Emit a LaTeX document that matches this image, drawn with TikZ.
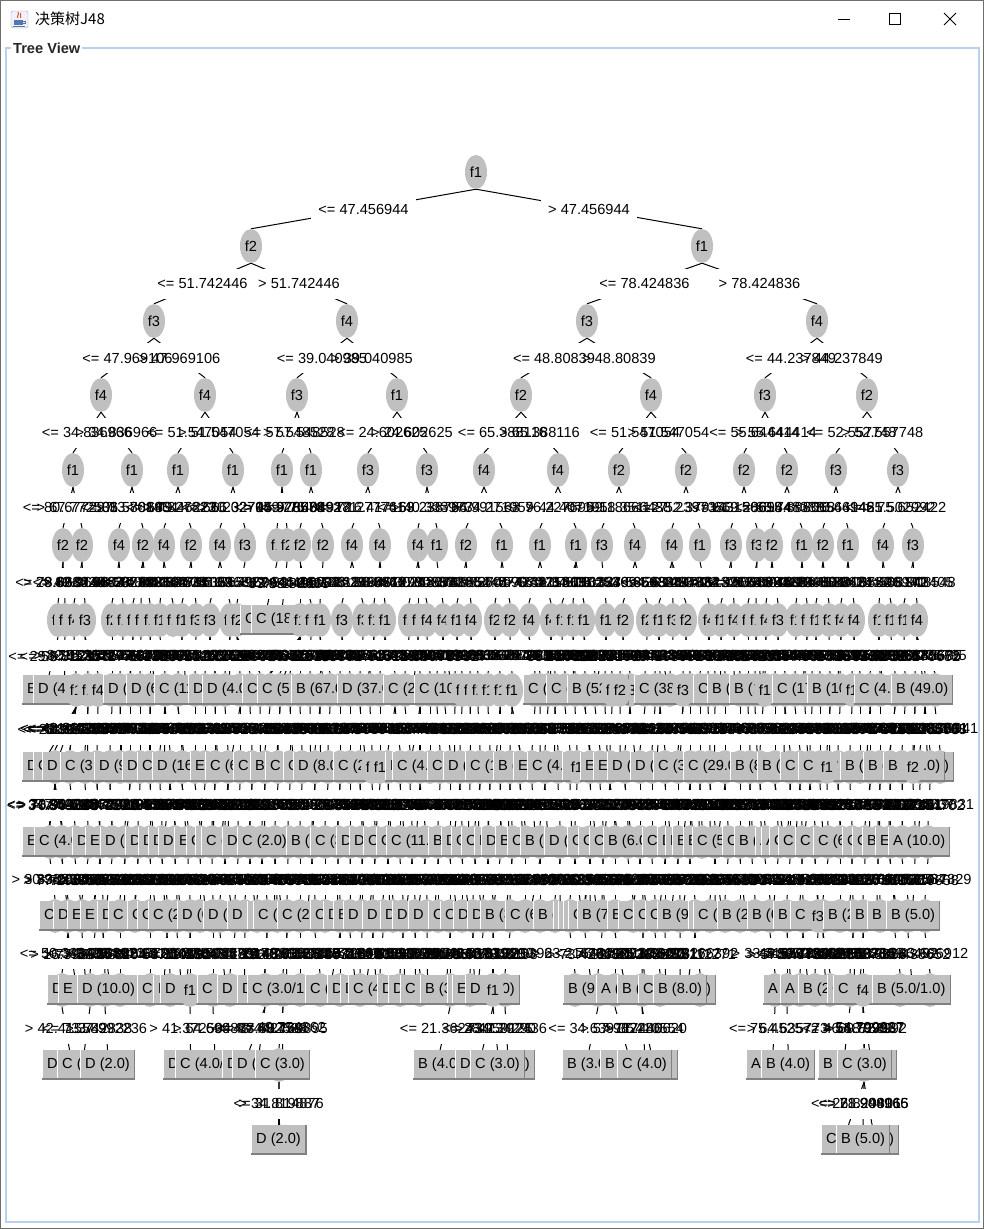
\documentclass[tikz,border=0pt]{standalone}
\usepackage{fontspec}
\setmainfont{Liberation Sans}
\newfontfamily\cjkfont{Noto Sans CJK SC}
\usetikzlibrary{shapes.geometric,calc}

\definecolor{nodegray}{RGB}{192,192,192}
\definecolor{shadegray}{RGB}{128,128,128}
\definecolor{groupblue}{RGB}{185,209,234}
\definecolor{winedge}{RGB}{110,110,110}
\definecolor{cupblue}{RGB}{80,120,170}
\definecolor{flamered}{RGB}{220,90,40}

\pgfdeclarelayer{bg}
\pgfdeclarelayer{edges}
\pgfdeclarelayer{masks}
\pgfsetlayers{bg,edges,masks,main}

\tikzset{
  treefont/.style={font=\fontsize{14.6}{16}\selectfont},
  split/.style={ellipse, fill=nodegray, minimum width=22pt, minimum height=34pt, inner sep=0pt, treefont},
  leafbox/.style={rectangle, fill=nodegray, minimum height=30pt, inner xsep=5pt, inner ysep=0pt, anchor=west, treefont},
  lbl/.style={inner sep=0pt, treefont},
  lblmask/.style={fill=white, text=white, minimum height=30pt, inner xsep=7pt, inner ysep=0pt, treefont},
  winbtn/.style={line width=1pt, black}
}

\newdimen\cxd
\newdimen\distx
\newdimen\bestd
\gdef\edgecmds{}
\gdef\maskcmds{}

% edge line and white label box are kept for the end, label text goes on top now
\newcommand\treeedge[3]{%
  \xdef\edgecmds{\unexpanded\expandafter{\edgecmds}\noexpand\draw[line width=1pt] (#1.south) -- (#2.north);}%
  \xdef\maskcmds{\unexpanded\expandafter{\maskcmds}\noexpand\node[lblmask] at ($(#1.south)!0.5!(#2.north)$) {#3};}%
  \node[lbl] at ($(#1.south)!0.5!(#2.north)$) {#3};}

\newcommand\flushedges{%
  \begin{pgfonlayer}{edges}\edgecmds\end{pgfonlayer}%
  \begin{pgfonlayer}{masks}\maskcmds\end{pgfonlayer}}

\newcommand\leafnode[4]{%
  \node[leafbox] (#1) at (#2,#3) {#4};
  \draw[white, line width=1pt] ([xshift=0.5pt]#1.north west) -- ([xshift=0.5pt]#1.south west);
  \draw[shadegray, line width=1pt] ([xshift=-0.5pt]#1.north east) -- ([xshift=-0.5pt]#1.south east);
  \draw[shadegray, line width=2pt] ([yshift=1pt]#1.south west) -- ([yshift=1pt]#1.south east);}

% nearest split node of the row above
\newcommand\nearestsplit{%
  \global\bestd=9999pt \gdef\parx{0}%
  \foreach \q in \pars {%
    \distx=\q pt \advance\distx by -\cxd
    \ifdim\distx<0pt \distx=-\distx \fi
    \ifdim\distx<\bestd \global\bestd=\distx \xdef\parx{\q}\fi}}

% one row: kind/x/text, kind 1 = split (x centre), 2 = leaf (x left)
\newcommand\treerow[3]{%
  \gdef\newpars{}%
  \pgfmathtruncatemacro\uprow{#1-1}%
  \foreach \nk/\nx/\nt in {#3} {%
    \ifnum\nk=1
      \node[split] (r#1e\nx) at (\nx,#2) {\nt};
      \ifx\newpars\empty \xdef\newpars{\nx}\else \xdef\newpars{\newpars,\nx}\fi
      \xdef\cur{r#1e\nx}%
    \else
      \leafnode{r#1b\nx}{\nx}{#2}{\nt}%
      \xdef\cur{r#1b\nx}%
    \fi
    \pgfextractx{\cxd}{\pgfpointanchor{\cur}{center}}%
    \nearestsplit
    \pgfmathtruncatemacro\cxi{\the\cxd}%
    \pgfmathtruncatemacro\ip{mod(\parx*7+\cxi*3+#1*13,70)+15}%
    \pgfmathtruncatemacro\fa{mod(\parx*9+\cxi*5+#1*101,900)+100}%
    \pgfmathtruncatemacro\fb{mod(\parx*3+\cxi*11+#1*37,900)+100}%
    \ifdim\cxd<\parx pt \def\sgn{<=}\else \def\sgn{>}\fi
    \treeedge{r\uprow e\parx}{\cur}{\sgn{} \ip.\fa\fb}%
  }%
  \global\let\pars\newpars}

\begin{document}
\begin{tikzpicture}[x=1pt, y=-1pt]
\useasboundingbox (0,0) rectangle (984,1229);
\begin{pgfonlayer}{bg}
  \fill[white] (0,0) rectangle (984,1229);
\end{pgfonlayer}
\draw[winedge, line width=1pt] (0.5,0.5) rectangle (983.5,1228.5);

% title bar
\node[draw=gray!70, fill=blue!6, rounded corners=1.5pt, minimum size=17pt, inner sep=0pt] (icon) at (19.5,19.5) {};
\draw[flamered, line width=1pt] (18,18) .. controls (16,16) and (20,15) .. (18,12);
\draw[flamered, line width=1pt] (20.5,18) .. controls (19.5,16) and (22,15) .. (20.5,13);
\fill[cupblue] (14,20) rectangle (23,25);
\draw[cupblue, line width=1pt] (23,21) -- (25,21) -- (25,23.5) -- (23,23.5);
\draw[cupblue, line width=1pt] (13,26.5) -- (25,26.5);
\node[anchor=west, inner sep=0pt, font=\cjkfont\fontsize{15}{18}\selectfont] (title) at (35,19) {决策树J48};
\draw[winbtn] (838,19.5) -- (850,19.5);
\draw[winbtn] (889.5,13.5) rectangle (900.5,24.5);
\draw[winbtn] (944,13) -- (956,25);
\draw[winbtn] (944,25) -- (956,13);

% group box
\draw[groupblue, line width=1.5pt] (6,48) rectangle (979,1222);
\node[anchor=west, fill=white, inner xsep=2pt, inner ysep=1pt, text=black!85, font=\bfseries\fontsize{14.6}{16}\selectfont] (treeview) at (11,48) {Tree View};

% top of the tree
\node[split] (r0e476) at (476,172) {f1};
\node[split] (r1e251) at (251,246) {f2};
\node[split] (r1e702) at (702,246) {f1};
\treeedge{r0e476}{r1e251}{<= 47.456944}
\treeedge{r0e476}{r1e702}{> 47.456944}

\node[split] (r2e154) at (154,321) {f3};
\node[split] (r2e347) at (347,321) {f4};
\node[split] (r2e587) at (587,321) {f3};
\node[split] (r2e817) at (817,321) {f4};
\treeedge{r1e251}{r2e154}{<= 51.742446}
\treeedge{r1e251}{r2e347}{> 51.742446}
\treeedge{r1e702}{r2e587}{<= 78.424836}
\treeedge{r1e702}{r2e817}{> 78.424836}

\foreach \x/\t in {101/f4,205/f4,297/f3,397/f1,521/f2,651/f4,765/f3,867/f2}
  \node[split] (r3e\x) at (\x,395) {\t};
\foreach \p/\x/\l in {154/101/<= 47.969106,154/205/> 47.969106,347/297/<= 39.040985,347/397/> 39.040985,
    587/521/<= 48.80839,587/651/> 48.80839,817/765/<= 44.237849,817/867/> 44.237849}
  {\treeedge{r2e\p}{r3e\x}{\l}}

\foreach \x/\t in {73/f1,132/f1,178/f1,233/f1,282/f1,311/f1,368/f3,427/f3,484/f4,558/f4,619/f2,686/f2,744/f2,787/f2,836/f3,898/f3}
  \node[split] (r4e\x) at (\x,470) {\t};
\foreach \p/\x/\l in {101/73/<= 34.836966,101/132/> 34.836966,205/178/<= 51.547054,205/233/> 51.547054,
    297/282/<= 57.548528,297/311/> 57.548528,397/368/<= 24.602625,397/427/> 24.602625,
    521/484/<= 65.388116,521/558/> 65.388116,651/619/<= 51.547054,651/686/> 51.547054,
    765/744/<= 55.644414,765/787/> 55.644414,867/836/<= 52.557748,867/898/> 52.557748}
  {\treeedge{r3e\p}{r4e\x}{\l}}

% lower rows
\gdef\pars{73,132,178,233,282,311,368,427,484,558,619,686,744,787,836,898}
\treerow{5}{545}{1/63/f2,1/82/f2,1/119/f4,1/143/f2,1/164/f4,1/191/f2,1/220/f4,1/245/f3,1/277/f1,1/287/f2,1/300/f2,1/323/f2,
  1/352/f4,1/380/f4,1/418/f4,1/437/f1,1/466/f2,1/502/f1,1/540/f1,1/576/f1,1/602/f3,1/635/f4,1/672/f4,1/700/f1,
  1/731/f3,1/757/f3,1/772/f2,1/802/f1,1/823/f2,1/848/f1,1/883/f4,1/913/f3}

\treerow{6}{620}{1/58/f1,1/65/f1,1/74/f4,1/85/f3,1/112/f2,1/123/f1,1/133/f1,1/141/f4,1/150/f1,1/160/f1,1/173/f2,1/182/f1,
  1/196/f3,1/210/f3,1/230/f1,1/237/f2,2/240/C (2.0),2/251/C (18.0),1/300/f1,1/311/f3,1/320/f1,1/342/f3,1/363/f3,
  1/374/f1,1/385/f1,1/409/f2,1/418/f1,1/427/f4,1/443/f4,1/457/f1,1/471/f4,1/495/f2,1/510/f2,1/529/f4,1/551/f4,
  1/562/f1,1/573/f1,1/584/f1,1/606/f1,1/623/f2,1/647/f2,1/659/f1,1/673/f3,1/686/f2,1/709/f4,1/721/f1,1/734/f4,
  1/748/f1,1/756/f1,1/766/f4,1/778/f3,1/796/f1,1/807/f1,1/816/f1,1/829/f3,1/841/f4,1/854/f4,1/879/f1,1/891/f1,
  1/904/f1,1/917/f4}

\treerow{7}{690}{1/120/f3,1/140/f1,1/165/f4,1/195/f2,1/215/f1,1/250/f3,1/270/f1,1/300/f2,1/320/f4,
  1/350/f1,1/370/f3,1/395/f1,1/430/f2,1/445/f4,1/540/f1,1/555/f3,1/585/f2,1/595/f1,1/645/f4,1/660/f1,1/700/f2,
  1/715/f3,1/740/f1,1/755/f4,1/785/f2,1/795/f1,1/820/f3,1/830/f1,1/870/f2,1/905/f4,1/925/f1,
  1/112/f2,1/130/f1,1/150/f3,1/178/f1,1/205/f4,1/225/f1,1/240/f2,1/260/f1,1/280/f3,1/290/f1,1/310/f2,
  1/330/f1,1/340/f4,1/360/f1,1/380/f2,1/405/f1,1/420/f3,1/437/f1,1/455/f2,1/535/f1,1/548/f4,1/565/f1,1/575/f2,
  1/605/f1,1/630/f3,1/655/f1,1/670/f2,1/690/f1,1/708/f4,1/725/f1,1/748/f2,1/763/f1,1/775/f3,1/805/f1,1/812/f2,
  1/840/f1,1/860/f4,1/880/f1,1/895/f2,1/915/f1,1/935/f3,
  2/22/E (2.0),2/33/D (48.0),1/76/f1,1/88/f1,1/98/f4,2/103/D (3.0),2/126/D (6.0),2/154/C (11.0),2/188/D (2.0),
  2/202/D (4.0),2/242/C (2.0),2/257/C (5.0),2/291/B (67.0),2/337/D (37.0),2/383/C (24.0),2/414/C (100.0),
  1/462/f1,1/470/f1,1/478/f2,1/488/f1,1/500/f1,1/512/f1,2/523/C (6.0),2/546/C (3.0),2/567/B (52.0),1/612/f1,
  1/620/f2,2/634/C (38.0),1/683/f3,2/693/C (2.0),2/707/B (3.0),2/729/B (14.0),1/765/f1,2/772/C (17.0),
  2/807/B (10.0),1/852/f1,2/854/C (4.0),2/891/B (49.0)}

\treerow{8}{767}{1/55/f2,1/85/f1,1/110/f3,1/130/f1,1/150/f4,1/170/f1,1/195/f2,1/215/f1,1/240/f3,1/265/f1,
  1/290/f2,1/315/f1,1/340/f4,1/360/f1,1/400/f2,1/420/f3,1/440/f1,1/460/f1,1/480/f2,1/500/f4,1/520/f1,1/545/f3,
  1/570/f1,1/590/f2,1/610/f1,1/640/f4,1/665/f1,1/690/f2,1/710/f1,1/740/f3,1/760/f1,1/790/f2,1/810/f1,1/850/f4,
  1/870/f1,1/890/f2,1/930/f1,
  1/70/f1,1/97/f3,1/120/f1,1/140/f2,1/160/f1,1/182/f4,1/205/f1,1/228/f2,1/252/f1,1/278/f3,1/302/f1,
  1/328/f2,1/350/f1,1/388/f4,1/410/f1,1/430/f2,1/450/f1,1/470/f3,1/490/f1,1/510/f2,1/532/f1,1/558/f4,1/600/f1,
  1/625/f2,1/652/f1,1/678/f3,1/700/f1,1/725/f2,1/750/f1,1/775/f4,1/800/f1,1/820/f2,1/838/f1,1/860/f3,1/880/f1,
  1/902/f2,1/920/f1,1/940/f4,
  2/22/D (7.0),2/33/C (2.0),2/42/D (5.0),2/60/C (3.0),2/94/D (9.0),2/122/D (2.0),2/137/C (4.0),2/152/D (16.0),
  2/190/E (2.0),2/205/C (6.0),2/233/C (2.0),2/250/B (3.0),2/265/C (5.0),2/283/C (2.0),2/293/D (8.0),
  2/333/C (26.0),1/372/f1,1/380/f1,2/385/D (2.0),2/392/C (4.0),2/427/C (3.0),2/443/D (5.0),2/465/C (14.0),
  2/493/B (6.0),2/513/E (2.0),2/527/C (4.0),2/562/C (7.0),1/577/f1,2/580/E (2.0),2/593/E (3.0),2/607/D (2.0),
  2/630/D (5.0),2/653/C (3.0),2/683/C (29.0),2/730/B (8.0),2/757/B (4.0),2/780/C (2.0),2/798/C (12.0),
  1/827/f1,2/840/B (6.0),2/863/B (9.0),2/900/B (4.0),2/883/B (10.0),1/913/f2}

\treerow{9}{842}{1/50/f1,1/75/f2,1/100/f1,1/125/f3,1/150/f1,1/175/f4,1/200/f1,1/225/f2,1/250/f1,1/275/f3,1/300/f1,
  1/325/f2,1/350/f4,1/375/f1,1/400/f2,1/425/f1,1/450/f3,1/475/f1,1/500/f2,1/525/f4,1/560/f1,1/590/f2,1/615/f1,
  1/640/f3,1/665/f1,1/690/f2,1/715/f4,1/740/f1,1/765/f2,1/790/f1,1/815/f3,1/840/f1,1/865/f2,1/890/f4,1/915/f1,
  1/62/f1,1/88/f3,1/112/f1,1/138/f2,1/162/f1,1/188/f4,1/212/f1,1/238/f2,1/262/f1,1/288/f3,1/312/f1,
  1/338/f2,1/362/f1,1/388/f4,1/412/f1,1/438/f2,1/462/f1,1/488/f3,1/512/f1,1/540/f2,1/575/f1,1/603/f4,1/628/f1,
  1/652/f2,1/678/f1,1/702/f3,1/728/f1,1/752/f2,1/778/f1,1/802/f4,1/828/f1,1/852/f2,1/878/f1,1/902/f3,1/928/f1,
  2/22/E (3.0),2/34/C (4.0),2/72/D (2.0),2/85/E (2.0),2/100/D (5.0),2/125/D (2.0),2/138/D (1.0),2/148/D (3.0),
  2/158/D (2.0),2/174/E (6.0),2/186/C (2.0),2/195/D (4.0),2/201/C (9.0),2/222/D (3.0),2/237/C (2.0),
  2/286/B (5.0),2/310/C (3.0),2/336/D (2.0),2/349/D (4.0),2/363/C (2.0),2/376/C (6.0),2/386/C (11.0),
  2/428/B (4.0),2/441/D (2.0),2/451/C (3.0),2/461/C (2.0),2/474/E (2.0),2/481/D (4.0),2/495/B (7.0),
  2/507/C (2.0),2/520/B (5.0),2/544/D (2.0),2/567/C (3.0),2/578/C (4.0),2/589/C (2.0),2/603/B (6.0),
  2/642/C (3.0),2/657/D (2.0),2/665/E (2.0),2/672/B (3.0),2/683/E (2.0),2/692/C (5.0),2/722/C (2.0),
  2/734/B (8.0),2/755/A (2.0),2/761/A (3.0),2/769/C (2.0),2/778/C (4.0),2/795/C (3.0),2/813/C (6.0),
  2/842/C (2.0),2/852/C (3.0),2/862/B (4.0),2/875/E (2.0),2/888/A (10.0)}

\treerow{10}{916}{1/82/f1,1/95/f2,1/103/f1,1/167/f3,1/177/f1,1/190/f2,1/213/f4,1/220/f1,1/257/f2,1/267/f1,1/277/f3,
  1/287/f1,1/340/f2,1/350/f1,1/362/f4,1/373/f1,1/383/f2,1/393/f1,1/403/f3,1/427/f1,1/450/f2,1/473/f1,1/483/f4,
  1/493/f1,1/602/f2,1/633/f1,1/643/f3,1/680/f1,1/787/f2,1/803/f1,1/823/f4,1/853/f1,1/863/f2,1/908/f1,
  1/55/f2,1/68/f1,1/120/f3,1/135/f1,1/150/f2,1/200/f1,1/235/f4,1/245/f1,1/300/f2,1/315/f1,1/325/f3,1/415/f1,
  1/438/f2,1/462/f1,1/510/f4,1/525/f1,1/540/f2,1/555/f1,1/570/f3,1/585/f1,1/615/f2,1/655/f1,1/665/f4,1/695/f1,
  1/710/f2,1/725/f1,1/740/f3,1/755/f1,1/770/f2,1/840/f1,1/880/f4,1/895/f1,1/925/f2,
  2/39/C (2.0),2/53/D (3.0),2/67/E (2.0),2/80/E (4.0),2/97/D (2.0),2/108/C (5.0),2/127/C (2.0),2/137/C (3.0),
  2/148/C (24.0),2/177/D (6.0),2/203/D (2.0),2/227/D (3.0),2/247/D (2.0),2/253/C (8.0),2/277/C (21.0),
  2/310/C (2.0),2/323/D (4.0),2/333/E (2.0),2/343/D (6.0),2/362/D (2.0),2/380/D (3.0),2/392/D (5.0),
  2/408/D (2.0),2/428/C (3.0),2/440/C (2.0),2/453/D (4.0),2/467/D (2.0),2/480/B (3.0),2/505/C (6.0),
  2/533/B (2.0),2/553/B (1.0),2/558/C (1.0),2/563/B (1.0),2/568/C (1.0),2/577/B (7.0),2/607/B (2.0),
  2/618/C (3.0),2/633/C (2.0),2/645/C (4.0),2/657/B (9.0),2/688/B (2.0),2/693/C (3.0),2/717/B (2.0),
  2/747/B (6.0),2/773/B (2.0),2/790/C (4.0),1/818/f3,2/823/B (2.0),2/850/B (3.0),2/867/B (2.0),2/886/B (5.0)}

\treerow{11}{990}{1/90/f2,1/105/f1,1/213/f3,1/265/f1,1/283/f2,1/450/f1,1/598/f4,1/642/f1,1/787/f2,1/850/f1,
  1/62/f1,1/120/f2,1/150/f1,1/170/f3,1/230/f1,1/300/f2,1/320/f1,1/340/f4,1/360/f1,1/380/f2,1/400/f1,1/420/f3,
  1/470/f1,1/505/f2,1/575/f1,1/615/f3,1/660/f1,1/700/f2,1/775/f1,1/800/f4,1/815/f1,1/830/f2,1/900/f1,1/930/f3,
  2/47/D (2.0),2/58/E (3.0),2/77/D (10.0),2/137/C (2.0),2/153/D (2.0),2/160/D (4.0),1/190/f1,2/197/C (3.0),
  2/217/D (2.0),2/237/D (1.0),2/247/{C (3.0/1.0)},2/305/C (2.0),2/327/D (2.0),2/340/D (1.0),2/348/C (4.0),
  2/377/D (1.0),2/388/D (2.0),2/400/C (2.0),2/420/B (3.0),2/447/E (1.0),2/452/E (2.0),2/465/D (9.0),1/493/f1,
  2/563/B (9.0),2/596/A (2.0),2/617/B (2.0),2/638/C (2.0),2/662/B (3.0),2/653/B (8.0),2/763/A (2.0),
  2/780/A (3.0),2/798/B (2.0),2/827/C (2.0),2/833/C (4.0),1/863/f4,2/872/{B (5.0/1.0)}}

\treerow{12}{1065}{1/279/f4,1/864/f2,
  2/42/D (2.0),2/57/C (3.0),2/80/D (2.0),2/163/D (1.0),2/175/{C (4.0/1.0)},2/222/D (1.0),2/232/D (2.0),
  2/255/C (3.0),2/413/B (4.0),2/455/D (2.0),2/480/C (2.0),2/470/C (3.0),2/562/B (3.0),2/600/B (2.0),
  2/623/C (1.0),2/617/C (4.0),2/746/A (1.0),2/761/B (4.0),2/818/B (2.0),2/842/C (1.0),2/837/C (3.0)}

\treerow{13}{1140}{2/252/C (1.0),2/251/D (2.0),2/845/B (1.0),2/821/C (2.0),2/836/B (5.0)}

\flushedges
\end{tikzpicture}
\end{document}
